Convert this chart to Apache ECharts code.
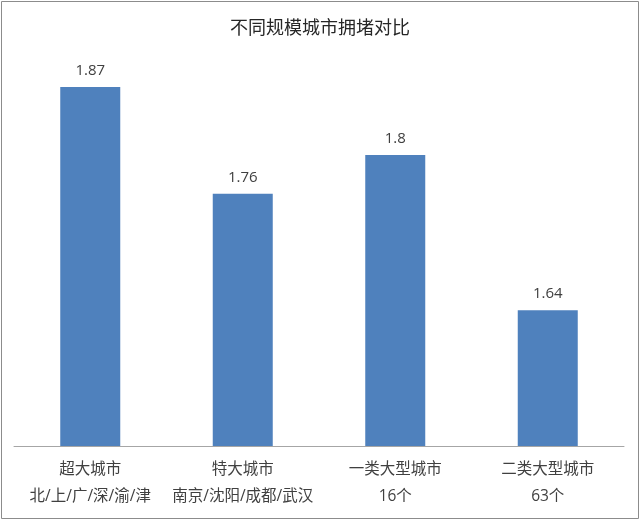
<!DOCTYPE html>
<html><head><meta charset="utf-8">
<script src="https://cdn.jsdelivr.net/npm/echarts@6/dist/echarts.min.js"></script>
<style>html,body{margin:0;padding:0;background:#fff}#c{width:640px;height:520px}</style>
</head><body><div id="c"></div>
<script>
const title = '不同规模城市拥堵对比';
const categories = ['超大城市\n北/上/广/深/渝/津', '特大城市\n南京/沈阳/成都/武汉', '一类大型城市\n16个', '二类大型城市\n63个'];
const values = [1.87, 1.76, 1.8, 1.64];
const yMin = 1.5, yMax = 1.9;

const chart = echarts.init(document.getElementById('c'), null, {renderer: 'canvas'});
const font = '"Open Sans", "Noto Sans CJK SC", sans-serif';
chart.setOption({
  animation: false,
  textStyle: {fontFamily: font},
  title: {text: title, left: 'center', top: 15, textStyle: {fontSize: 18, fontWeight: 'normal', color: '#262626', fontFamily: font}},
  graphic: [{type: 'rect', shape: {x: 1.5, y: 1.5, width: 637, height: 517}, style: {fill: null, stroke: '#8c8c8c', lineWidth: 1}, silent: true}],
  grid: {left: 14, right: 16, top: 58, bottom: 74, containLabel: false},
  xAxis: {type: 'category', data: categories,
    axisLine: {lineStyle: {color: '#a6a6a6', width: 1}}, axisTick: {show: false},
    axisLabel: {color: '#404040', fontSize: 15.5, lineHeight: 27, margin: 10, interval: 0, fontFamily: font}},
  yAxis: {type: 'value', min: yMin, max: yMax, show: false, splitLine: {show: false}},
  series: [{type: 'bar', data: values, barWidth: 60,
    itemStyle: {color: '#4f81bd'},
    label: {show: true, position: 'top', distance: 9, color: '#404040', fontSize: 15, fontFamily: font}}]
});
</script></body></html>
